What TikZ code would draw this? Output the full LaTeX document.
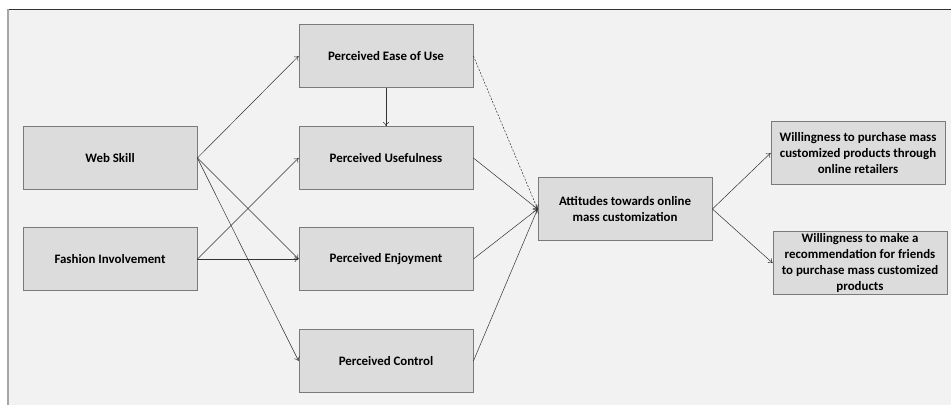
\documentclass[tikz,border=0pt]{standalone}
\usepackage{fontspec}
\setmainfont{Carlito}
\usepackage{xcolor}
\usepackage{tikz}
\usetikzlibrary{arrows.meta,positioning}
\definecolor{panelbg}{HTML}{F2F2F2}
\definecolor{boxfill}{HTML}{DCDCDC}
\definecolor{boxline}{HTML}{7A7A7A}
\tikzset{
  cbox/.style={draw=boxline,thick,fill=boxfill,minimum width=174pt,minimum height=63pt,
    align=center,inner sep=2pt,font=\bfseries\fontsize{12.9}{15.8}\selectfont,text=black},
  ar/.style={-{To[length=4pt,width=6pt]},black!80,line width=0.5pt},
  ard/.style={ar,dashed,dash pattern=on 2pt off 1.5pt}
}
\begin{document}
\begin{tikzpicture}[x=1pt,y=-1pt]
\useasboundingbox (0,0) rectangle (951,405);
\fill[white] (0,0) rectangle (951,405);
\fill[panelbg] (8,9) rectangle (951,405);
\draw[black!80,line width=0.8pt] (7,9)--(951,9);
\draw[gray!70,line width=1.8pt] (8,9)--(8,405);
% left column
\node[cbox] (web) at (110,158) {Web Skill};
\node[cbox] (fash) at (110,259) {Fashion Involvement};
% perceptions
\node[cbox] (ease) at (386,56) {Perceived Ease of Use};
\node[cbox] (use) at (386,158) {Perceived Usefulness};
\node[cbox] (enj) at (386,259) {Perceived Enjoyment};
\node[cbox] (ctrl) at (386,361) {Perceived Control};
% attitude and outcomes
\node[cbox] (att) at (625,209) {Attitudes towards online\\mass customization};
\node[cbox] (buy) at (858,153) {Willingness to purchase mass\\customized products through\\online retailers};
\node[cbox] (rec) at (860,263) {Willingness to make a\\recommendation for friends\\to purchase mass customized\\products};
% connectors
\foreach \t in {ease,enj,ctrl}{\draw[ar] (web.east)--(\t.west);}
\foreach \t in {use,enj}{\draw[ar] (fash.east)--(\t.west);}
\draw[ar] (ease.south)--(use.north);
\draw[ard] (ease.east)--(att.west);
\foreach \s in {use,enj,ctrl}{\draw[ar] (\s.east)--(att.west);}
\draw[ar] (att.east)--(buy.west);
\draw[ar] (att.east)--(rec.west);
\end{tikzpicture}
\end{document}
